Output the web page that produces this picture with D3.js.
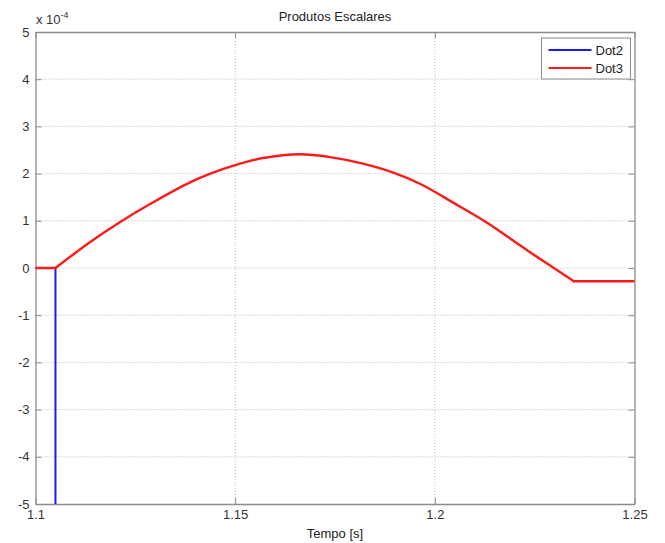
<!DOCTYPE html>
<html lang="en">
<head>
    <meta charset="UTF-8">
    <title>Produtos Escalares</title>
    <style>
        body { margin: 0; background: #fff; }
        text { font-family: "Liberation Sans", Arial, sans-serif; }
    </style>
</head>
<body>
    <div id="chart-container"></div>
    <script src="https://d3js.org/d3.v7.min.js"></script>
    <script>
        // values (y in units of 1e-4)
        const dot2Time = [1.1, 1.105, 1.105];
        const dot2Value = [0, 0, -6];
        const dot3Time = [1.1, 1.105, 1.1137, 1.1213, 1.1288, 1.1388, 1.1438, 1.15, 1.157, 1.1663,
            1.1738, 1.182, 1.1896, 1.1964, 1.2047, 1.2131, 1.2215, 1.2298, 1.2348, 1.25];
        const dot3Value = [0, 0, 0.55, 0.98, 1.36, 1.82, 2.0, 2.18, 2.33, 2.41,
            2.35, 2.21, 2.02, 1.78, 1.38, 0.96, 0.47, 0.0, -0.28, -0.28];
        const xTicks = [1.1, 1.15, 1.2, 1.25];
        const yTicks = [-5, -4, -3, -2, -1, 0, 1, 2, 3, 4, 5];
        const seriesNames = ["Dot2", "Dot3"];
        const seriesColors = ["#1a1aff", "#ff1a1a"];

        const W = 665, H = 543;
        const MARGIN = {LEFT: 35.5, TOP: 32, RIGHT: 30.5, BOTTOM: 39};
        const WIDTH = W - MARGIN.LEFT - MARGIN.RIGHT;
        const HEIGHT = H - MARGIN.TOP - MARGIN.BOTTOM;

        const svg = d3.select("#chart-container").append("svg")
            .attr("width", W)
            .attr("height", H);
        const g = svg.append("g")
            .attr("transform", `translate(${MARGIN.LEFT},${MARGIN.TOP})`);

        const x = d3.scaleLinear().domain([1.1, 1.25]).range([0, WIDTH]);
        const y = d3.scaleLinear().domain([-5, 5]).range([HEIGHT, 0]);

        svg.append("defs").append("clipPath").attr("id", "clip")
            .append("rect").attr("width", WIDTH).attr("height", HEIGHT);

        // grid
        g.append("g").selectAll("line.gx")
            .data(xTicks.slice(1, -1)).enter().append("line")
            .attr("x1", d => x(d)).attr("x2", d => x(d))
            .attr("y1", 0).attr("y2", HEIGHT)
            .attr("stroke", "#b8b8b8").attr("stroke-dasharray", "1,2");
        g.append("g").selectAll("line.gy")
            .data(yTicks.slice(1, -1)).enter().append("line")
            .attr("y1", d => y(d)).attr("y2", d => y(d))
            .attr("x1", 0).attr("x2", WIDTH)
            .attr("stroke", "#b8b8b8").attr("stroke-dasharray", "1,2");

        // axes (ticks pointing inward, mirrored on top/right)
        const axisColor = "#8c8c8c";
        const fmt = d => String(d);
        const xAxis = g.append("g")
            .attr("transform", `translate(0,${HEIGHT})`)
            .call(d3.axisBottom(x).tickValues(xTicks).tickSizeInner(-6).tickSizeOuter(0)
                .tickPadding(10).tickFormat(fmt));
        const xAxisTop = g.append("g")
            .call(d3.axisTop(x).tickValues(xTicks).tickSizeInner(-6).tickSizeOuter(0)
                .tickFormat(""));
        const yAxis = g.append("g")
            .call(d3.axisLeft(y).tickValues(yTicks).tickSizeInner(-6).tickSizeOuter(0)
                .tickPadding(6).tickFormat(fmt));
        const yAxisRight = g.append("g")
            .attr("transform", `translate(${WIDTH},0)`)
            .call(d3.axisRight(y).tickValues(yTicks).tickSizeInner(-6).tickSizeOuter(0)
                .tickFormat(""));
        [xAxis, xAxisTop, yAxis, yAxisRight].forEach(a => {
            a.selectAll("path").attr("stroke", axisColor).attr("stroke-width", 1.3);
            a.selectAll("line").attr("stroke", axisColor);
            a.selectAll("text").attr("fill", "#333").attr("font-size", "13px")
                .attr("font-family", "Liberation Sans, Arial, sans-serif");
        });
        xAxis.selectAll("text").attr("dy", "0.35em");

        // series
        const line = d3.line().x(d => x(d[0])).y(d => y(d[1]));
        const smooth = d3.line().x(d => x(d[0])).y(d => y(d[1])).curve(d3.curveCatmullRom);
        const plot = g.append("g").attr("clip-path", "url(#clip)");
        plot.append("path")
            .datum(d3.zip(dot2Time, dot2Value))
            .attr("fill", "none").attr("stroke", seriesColors[0]).attr("stroke-width", 2)
            .attr("d", line);
        const dot3 = d3.zip(dot3Time, dot3Value);
        const n = dot3.length;
        // flat start, smooth middle, flat end
        [[dot3.slice(0, 2), line], [dot3.slice(1, n - 1), smooth], [dot3.slice(n - 2), line]]
            .forEach(([pts, gen]) => {
                plot.append("path")
                    .datum(pts)
                    .attr("fill", "none").attr("stroke", seriesColors[1]).attr("stroke-width", 2.4)
                    .attr("stroke-linejoin", "round").attr("stroke-linecap", "round")
                    .attr("d", gen);
            });

        // labels
        svg.append("text")
            .attr("x", MARGIN.LEFT + WIDTH / 2).attr("y", 21)
            .attr("text-anchor", "middle").attr("font-size", "13px").attr("fill", "#222")
            .text("Produtos Escalares");
        svg.append("text")
            .attr("x", MARGIN.LEFT + WIDTH / 2).attr("y", 538)
            .attr("text-anchor", "middle").attr("font-size", "13px").attr("fill", "#222")
            .text("Tempo [s]");
        const expo = svg.append("text")
            .attr("x", 36).attr("y", 24).attr("font-size", "13px").attr("fill", "#333");
        expo.append("tspan").text("x 10");
        expo.append("tspan").attr("dy", -6).attr("font-size", "9px").text("-4");

        // legend
        const legend = g.append("g").attr("transform", `translate(${WIDTH - 93},6)`);
        legend.append("rect")
            .attr("width", 89).attr("height", 41)
            .attr("fill", "#fff").attr("stroke", axisColor);
        seriesNames.forEach((name, i) => {
            const row = legend.append("g").attr("transform", `translate(0,${12 + i * 18})`);
            row.append("line").attr("x1", 7).attr("x2", 50)
                .attr("stroke", seriesColors[i]).attr("stroke-width", 2);
            row.append("text").attr("x", 54).attr("dy", "0.35em")
                .attr("font-size", "13px").attr("fill", "#222").text(name);
        });
    </script>
</body>
</html>
